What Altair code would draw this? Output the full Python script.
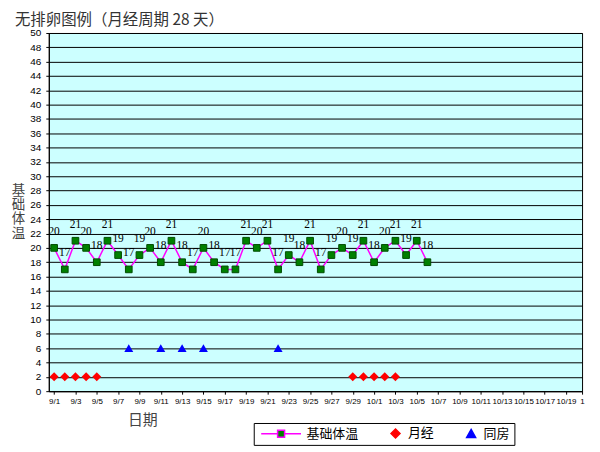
import json
import altair as alt
import pandas as pd

# ---------------- data ----------------
temp_dates = ["9/1", "9/2", "9/3", "9/4", "9/5", "9/6", "9/7", "9/8", "9/9", "9/10",
              "9/11", "9/12", "9/13", "9/14", "9/15", "9/16", "9/17", "9/18", "9/19", "9/20",
              "9/21", "9/22", "9/23", "9/24", "9/25", "9/26", "9/27", "9/28", "9/29", "9/30",
              "10/1", "10/2", "10/3", "10/4", "10/5", "10/6"]
temp_values = [20, 17, 21, 20, 18, 21, 19, 17, 19, 20,
               18, 21, 18, 17, 20, 18, 17, 17, 21, 20,
               21, 17, 19, 18, 21, 17, 19, 20, 19, 21,
               18, 20, 21, 19, 21, 18]

menses_dates = ["9/1", "9/2", "9/3", "9/4", "9/5", "9/29", "9/30", "10/1", "10/2", "10/3"]
menses_values = [2, 2, 2, 2, 2, 2, 2, 2, 2, 2]

sex_dates = ["9/8", "9/11", "9/13", "9/15", "9/22"]
sex_values = [6, 6, 6, 6, 6]

x_tick_labels = ["9/1", "9/3", "9/5", "9/7", "9/9", "9/11", "9/13", "9/15", "9/17", "9/19",
                 "9/21", "9/23", "9/25", "9/27", "9/29", "10/1", "10/3", "10/5", "10/7", "10/9",
                 "10/11", "10/13", "10/15", "10/17", "10/19", "1"]
y_ticks = list(range(0, 51, 2))

series_names = ["基础体温", "月经", "同房"]


def day_index(d):
    m, dd = d.split("/")
    return (int(m) - 9) * 30 + int(dd) - 1


temp_df = pd.DataFrame({"date": temp_dates, "v": temp_values})
temp_df["i"] = temp_df["date"].map(day_index)
men_df = pd.DataFrame({"date": menses_dates, "v": menses_values})
men_df["i"] = men_df["date"].map(day_index)
sex_df = pd.DataFrame({"date": sex_dates, "v": sex_values})
sex_df["i"] = sex_df["date"].map(day_index)
legend_df = pd.DataFrame({"series": series_names, "i": [0, 0, 0], "v": [0, 0, 0]})

# ---------------- scales / axes ----------------
tick_vals = list(range(0, 49, 2)) + [49.5]
label_expr = json.dumps(x_tick_labels) + "[round(datum.value / 2)]"

x_enc = alt.X(
    "i:Q",
    scale=alt.Scale(domain=[-0.5, 49.5], nice=False, zero=False),
    axis=alt.Axis(
        values=tick_vals, labelExpr=label_expr, grid=False,
        labelFont="Liberation Sans", labelFontSize=8, labelColor="#000",
        tickSize=3, tickColor="#000", domainColor="#000", labelPadding=3,
        labelFlush=False, labelOverlap=False,
        title="日期", titleX=94, titleY=29, titleAlign="center", titleBaseline="middle",
        titleFont="Noto Sans CJK SC", titleFontSize=15, titleFontWeight="normal",
        titleColor="#444",
    ),
)
y_enc = alt.Y(
    "v:Q",
    scale=alt.Scale(domain=[0, 50], nice=False, zero=True),
    axis=alt.Axis(
        values=y_ticks, grid=True, gridColor="#000", gridWidth=1, gridOpacity=1,
        labelFont="Liberation Sans", labelFontSize=10, labelColor="#000",
        tickSize=3, tickColor="#000", domainColor="#000", labelPadding=5,
        labelFlush=False, labelOverlap=False,
        title=["基", "础", "体", "温"], titleAngle=0, titleX=-31, titleY=158,
        titleAlign="center", titleBaseline="middle", titleLineHeight=14.4,
        titleFont="Noto Sans CJK SC", titleFontSize=13.5, titleFontWeight="normal",
        titleColor="#444",
    ),
)

# legend symbols (custom paths, unit = 5px)
temp_path = "M-0.6,0L2.7,0M4.1,0L7.4,0M2.7,-0.7L4.1,-0.7L4.1,0.7L2.7,0.7Z"
diamond_path = "M5.1,0L6,-0.9L6.9,0L6,0.9Z"
tri_path = "M6,-0.85L6.9,0.75L5.1,0.75Z"

leg = alt.Legend(
    title=None, orient="none", legendX=206, legendY=392, direction="horizontal",
    columns=3, symbolSize=100, labelOffset=36, columnPadding=0, padding=4,
    strokeColor="#000", fillColor="#fff", labelFont="Noto Sans CJK SC",
    labelFontSize=13, labelColor="#000", symbolStrokeWidth=1.5, labelLimit=200,
    symbolOpacity=1,
)

legend_layer = alt.Chart(legend_df).mark_point(filled=True, size=0, strokeWidth=1.5, opacity=1).encode(
    x=x_enc, y=y_enc,
    fill=alt.Fill("series:N", scale=alt.Scale(domain=series_names, range=["#008000", "#FF0000", "#0000FF"]), legend=leg),
    stroke=alt.Stroke("series:N", scale=alt.Scale(domain=series_names, range=["#FF00FF", "#FF0000", "#0000FF"]), legend=leg),
    shape=alt.Shape("series:N", scale=alt.Scale(domain=series_names, range=[temp_path, diamond_path, tri_path]), legend=leg),
)

base_t = alt.Chart(temp_df).encode(x=x_enc, y=y_enc)
line = base_t.mark_line(color="#FF00FF", strokeWidth=1.5)
squares = base_t.mark_square(size=45, color="#008000", stroke="#004d00", strokeWidth=1, opacity=1)
labels = base_t.mark_text(font="Liberation Serif", fontSize=11.5, color="#000", baseline="middle", dy=-16).encode(
    text="v:Q")

diamonds = alt.Chart(men_df).mark_point(shape="diamond", filled=True, size=81, color="#FF0000", opacity=1).encode(
    x=x_enc, y=y_enc)
triangles = alt.Chart(sex_df).mark_point(shape="triangle-up", filled=True, size=81, color="#0000FF", opacity=1).encode(
    x=x_enc, y=y_enc)

chart = alt.layer(legend_layer, line, squares, labels, diamonds, triangles).properties(
    width=536, height=360,
    autosize=alt.AutoSizeParams(type="none"),
    padding={"left": 41, "top": 24, "right": 10, "bottom": 55},
    title=alt.TitleParams(
        "无排卵图例（月经周期 28 天）", anchor="start", frame="group", dx=-34, offset=-15,
        baseline="bottom", fontSize=15.5, font="Noto Sans CJK SC", fontWeight="normal", color="#333",
    ),
).configure_view(fill="#CCFFFF", stroke="#000", strokeWidth=1)

chart.save("out.html", embed_options={"renderer": "svg", "actions": False})
